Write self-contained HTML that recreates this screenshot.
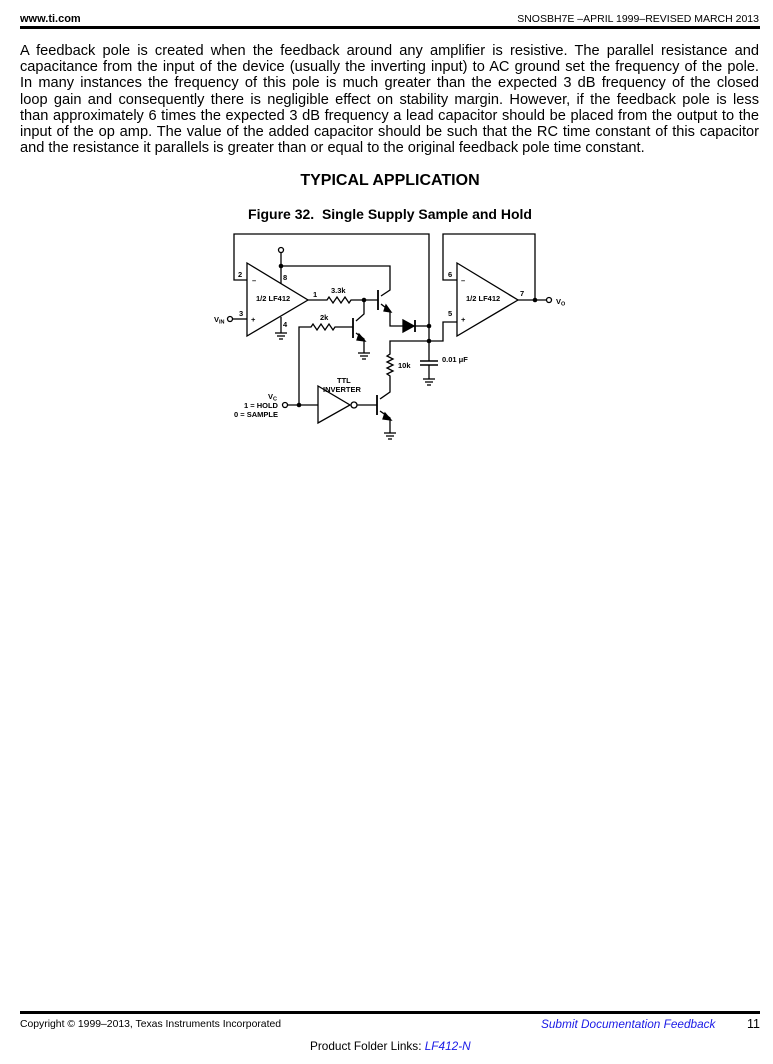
<!DOCTYPE html>
<html><head><meta charset="utf-8"><style>
body{margin:0;width:773px;height:1064px;background:#fff;position:relative;font-family:"Liberation Sans",sans-serif;color:#000;overflow:hidden}
.a{position:absolute;white-space:nowrap}
.p{position:absolute;left:20px;width:739px;font-size:14.6px;line-height:16.2px;top:43px}
.p div{text-align:justify;text-align-last:justify;height:16.2px}
.p div.l{text-align-last:left}
svg text{font-family:"Liberation Sans",sans-serif;font-weight:bold;font-size:7.5px}
</style></head><body>
<div class="a" style="left:20px;top:13px;font-size:11px;font-weight:bold">www.ti.com</div>
<div class="a" style="right:14px;top:13px;font-size:10.5px">SNOSBH7E –APRIL 1999–REVISED MARCH 2013</div>
<div class="a" style="left:20px;top:26px;width:740px;height:3px;background:#000"></div>
<div class="p">
<div>A feedback pole is created when the feedback around any amplifier is resistive. The parallel resistance and</div>
<div>capacitance from the input of the device (usually the inverting input) to AC ground set the frequency of the pole.</div>
<div>In many instances the frequency of this pole is much greater than the expected 3 dB frequency of the closed</div>
<div>loop gain and consequently there is negligible effect on stability margin. However, if the feedback pole is less</div>
<div>than approximately 6 times the expected 3 dB frequency a lead capacitor should be placed from the output to the</div>
<div>input of the op amp. The value of the added capacitor should be such that the RC time constant of this capacitor</div>
<div class="l">and the resistance it parallels is greater than or equal to the original feedback pole time constant.</div>
</div>
<div class="a" style="left:0;width:780px;text-align:center;top:172px;font-size:16px;font-weight:bold">TYPICAL APPLICATION</div>
<div class="a" style="left:0;width:780px;text-align:center;top:206px;font-size:14px;font-weight:bold">Figure 32.&nbsp; Single Supply Sample and Hold</div>
<svg class="a" style="left:0;top:0" width="773" height="460" viewBox="0 0 773 460" fill="none" stroke="#000" stroke-width="1.3">
<polygon points="247,263 308,300 247,336"/>
<polyline points="247,280 234,280 234,234 429,234 429,326"/>
<line x1="232" y1="319" x2="247" y2="319"/><circle cx="230" cy="319" r="2.5" fill="#fff"/>
<line x1="281" y1="284" x2="281" y2="253"/><circle cx="281" cy="250" r="2.5" fill="#fff"/>
<polyline points="281,266 390,266 390,290 381,296"/>
<line x1="281" y1="317" x2="281" y2="333"/>
<g stroke-width="1.3"><line x1="275" y1="333" x2="287" y2="333"/><line x1="277" y1="336" x2="285" y2="336"/><line x1="279" y1="339" x2="283" y2="339"/></g>
<polyline points="308,300 327,300 329,297 333,303 337,297 341,303 345,297 349,303 351,300 378,300"/>
<line x1="378" y1="290" x2="378" y2="310" stroke-width="1.8"/>
<polyline points="381,304 390,311 390,326 403,326"/>
<polygon points="386,305 391,312 384,311" fill="#000"/>
<polygon points="403,320 414,326 403,332" fill="#000"/>
<line x1="415" y1="320" x2="415" y2="332" stroke-width="1.8"/>
<line x1="415" y1="326" x2="429" y2="326"/>
<polyline points="364,300 364,314 356,321"/>
<line x1="353" y1="318" x2="353" y2="338" stroke-width="1.8"/>
<polyline points="356,333 364,339 364,353"/>
<polygon points="359,334 365,341 357,340" fill="#000"/>
<g><line x1="358" y1="353" x2="370" y2="353"/><line x1="360" y1="356" x2="368" y2="356"/><line x1="362" y1="359" x2="366" y2="359"/></g>
<polyline points="299,405 299,327 311,327 313,324 317,330 321,324 325,330 329,324 333,330 335,327 353,327"/>
<circle cx="285" cy="405" r="2.5" fill="#fff"/>
<line x1="288" y1="405" x2="318" y2="405"/>
<polygon points="318,386 350,405 318,423"/>
<circle cx="354" cy="405" r="3" fill="#fff"/>
<line x1="357" y1="405" x2="377" y2="405"/>
<line x1="377" y1="395" x2="377" y2="415" stroke-width="1.8"/>
<polyline points="380,399 390,392 390,376 387,374 393,371 387,368 393,365 387,362 393,359 387,356 390,354 390,341 443,341 443,322 457,322"/>
<polyline points="380,411 390,418 390,433"/>
<polygon points="385,413 391,420 383,419" fill="#000"/>
<g><line x1="384" y1="433" x2="396" y2="433"/><line x1="386" y1="436" x2="394" y2="436"/><line x1="388" y1="439" x2="392" y2="439"/></g>
<line x1="429" y1="326" x2="429" y2="361"/>
<line x1="420" y1="361" x2="438" y2="361" stroke-width="1.6"/>
<line x1="420" y1="365" x2="438" y2="365" stroke-width="1.6"/>
<line x1="429" y1="365" x2="429" y2="379"/>
<g><line x1="423" y1="379" x2="435" y2="379"/><line x1="425" y1="382" x2="433" y2="382"/><line x1="427" y1="385" x2="431" y2="385"/></g>
<polygon points="457,263 518,300 457,336"/>
<polyline points="457,280 443,280 443,234 535,234 535,300"/>
<line x1="518" y1="300" x2="546" y2="300"/><circle cx="549" cy="300" r="2.5" fill="#fff"/>
<g fill="#000" stroke="none">
<circle cx="281" cy="266" r="2.3"/><circle cx="364" cy="300" r="2.3"/><circle cx="429" cy="326" r="2.3"/><circle cx="429" cy="341" r="2.3"/><circle cx="299" cy="405" r="2.3"/><circle cx="535" cy="300" r="2.3"/>
<text x="238" y="277">2</text><text x="283" y="280">8</text><text x="239" y="316">3</text><text x="283" y="327">4</text><text x="313" y="297">1</text>
<text x="256" y="301">1/2 LF412</text><text x="252" y="283">–</text><text x="251" y="322">+</text>
<text x="331" y="293">3.3k</text><text x="320" y="320">2k</text><text x="398" y="368">10k</text>
<text x="442" y="362">0.01 μF</text><text x="337" y="383">TTL</text><text x="323" y="392">INVERTER</text>
<text x="268" y="399">V<tspan font-size="5.5" dy="1.5">C</tspan></text><text x="244" y="408">1 = HOLD</text><text x="234" y="417">0 = SAMPLE</text>
<text x="214" y="322">V<tspan font-size="5.5" dy="1.5">IN</tspan></text>
<text x="448" y="277">6</text><text x="448" y="316">5</text><text x="520" y="296">7</text><text x="466" y="301">1/2 LF412</text>
<text x="461" y="283">–</text><text x="461" y="322">+</text>
<text x="556" y="304">V<tspan font-size="5.5" dy="1.5">O</tspan></text>
</g>
</svg>
<div class="a" style="left:20px;top:1011px;width:740px;height:3px;background:#000"></div>
<div class="a" style="left:20px;top:1019px;font-size:10.4px">Copyright © 1999–2013, Texas Instruments Incorporated</div>
<div class="a" style="left:541px;top:1017px;font-size:11.8px;font-style:italic;color:#1a1ae6">Submit Documentation Feedback</div>
<div class="a" style="left:747px;top:1017px;font-size:12.5px">11</div>
<div class="a" style="left:310px;top:1039px;font-size:11.8px">Product Folder Links: <i style="color:#1a1ae6">LF412-N</i></div>
</body></html>
